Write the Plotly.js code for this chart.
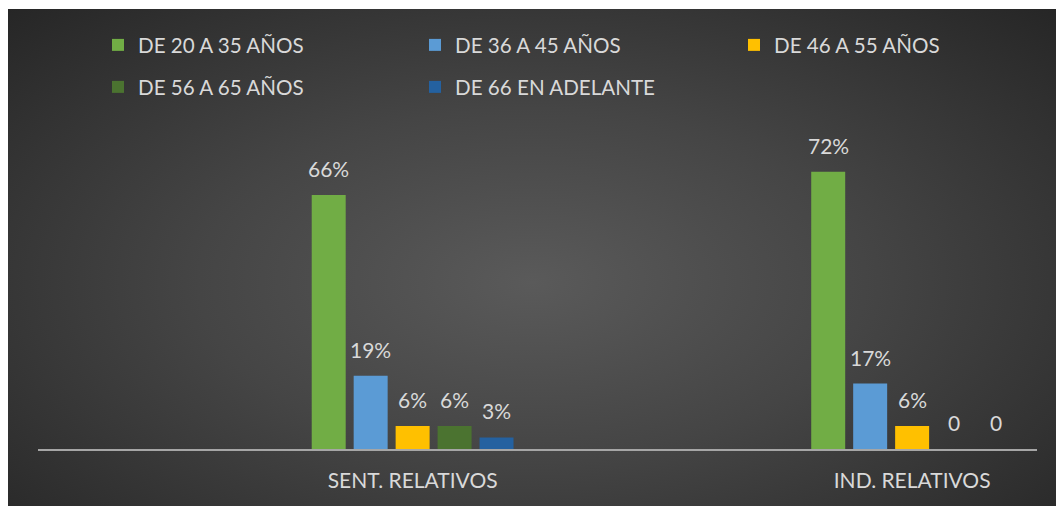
<!DOCTYPE html>
<html>
<head>
<meta charset="utf-8">
<script src="https://cdn.plot.ly/plotly-3.0.1.min.js"></script>
<style>
  html, body { margin: 0; padding: 0; background: #ffffff; }
  #wrap { position: relative; width: 1056px; height: 506px; overflow: hidden; }
  #bg { position: absolute; left: 8px; top: 9px; width: 1048px; height: 497px;
        background: radial-gradient(ellipse farthest-corner at 50% 55%, #5a5a5a 0%, #454545 45%, #262626 100%); }
  #chart { position: absolute; left: 0; top: 0; width: 1056px; height: 506px; }
</style>
</head>
<body>
<div id="wrap"><div id="bg"></div><div id="chart"></div></div>
<script>
const categories = ['SENT. RELATIVOS', 'IND. RELATIVOS'];
const seriesNames = ['DE 20 A 35 AÑOS', 'DE 36 A 45 AÑOS', 'DE 46 A 55 AÑOS', 'DE 56 A 65 AÑOS', 'DE 66 EN ADELANTE'];
const age20to35 = [66, 72];
const age36to45 = [19, 17];
const age46to55 = [6, 6];
const age56to65 = [6, 0];
const age66plus = [3, 0];
const labels20to35 = ['66%', '72%'];
const labels36to45 = ['19%', '17%'];
const labels46to55 = ['6%', '6%'];
const labels56to65 = ['6%', '0'];
const labels66plus = ['3%', '0'];

const colors = ['#71ad45', '#5b9bd5', '#ffc000', '#4b7330', '#2461a0'];
const values = [age20to35, age36to45, age46to55, age56to65, age66plus];
const texts = [labels20to35, labels36to45, labels46to55, labels56to65, labels66plus];
const legendOf = ['legend', 'legend', 'legend3', 'legend2', 'legend2'];
const fontFam = 'Lato, "Open Sans", sans-serif';
const txtColor = '#d9d9d9';

const W = 1056, H = 506;
const margin = { l: 38, r: 19, t: 141, b: 57 };
const bargap = 0.58, bargroupgap = 0.19;
const xRange = [-0.75, 1.25];
const nSeries = values.length;
const pxPerCat = (W - margin.l - margin.r) / (xRange[1] - xRange[0]);
const slotPx = pxPerCat * (1 - bargap) / nSeries;

const data = values.map((v, i) => ({
  type: 'bar',
  name: seriesNames[i],
  x: categories,
  y: v,
  marker: { color: colors[i] },
  legend: legendOf[i],
  hoverinfo: 'skip'
}));

const annotations = [];
values.forEach((v, i) => {
  v.forEach((val, j) => {
    annotations.push({
      x: categories[j], y: val, xref: 'x', yref: 'y',
      text: texts[i][j], showarrow: false,
      xanchor: 'center', yanchor: 'bottom',
      xshift: (i - (nSeries - 1) / 2) * slotPx,
      yshift: 12,
      font: { family: fontFam, size: 21, color: txtColor }
    });
  });
});

const legendCommon = {
  orientation: 'h',
  xref: 'container', yref: 'container',
  xanchor: 'left', yanchor: 'middle',
  entrywidth: 272, entrywidthmode: 'pixels',
  bgcolor: 'rgba(0,0,0,0)',
  font: { family: fontFam, size: 20.6, color: txtColor },
  traceorder: 'normal'
};

const layout = {
  width: W, height: H,
  paper_bgcolor: 'rgba(0,0,0,0)',
  plot_bgcolor: 'rgba(0,0,0,0)',
  margin: margin,
  barmode: 'group',
  bargap: bargap,
  bargroupgap: bargroupgap,
  showlegend: true,
  legend: Object.assign({}, legendCommon, { x: 98 / W, y: 1 - 45 / H }),
  legend3: Object.assign({}, legendCommon, { x: (98 + 636) / W, y: 1 - 45 / H }),
  legend2: Object.assign({}, legendCommon, { x: 98 / W, y: 1 - 87 / H }),
  annotations: annotations,
  xaxis: {
    type: 'category',
    range: xRange,
    showline: true, linecolor: '#a6a6a6', linewidth: 2,
    showgrid: false, zeroline: false, ticks: '',
    ticklabelstandoff: 12,
    tickfont: { family: fontFam, size: 21, color: txtColor },
    fixedrange: true
  },
  yaxis: {
    range: [0, 80],
    visible: false, showgrid: false, zeroline: false,
    fixedrange: true
  }
};

Plotly.newPlot('chart', data, layout, { displayModeBar: false, staticPlot: true });
</script>
</body>
</html>
